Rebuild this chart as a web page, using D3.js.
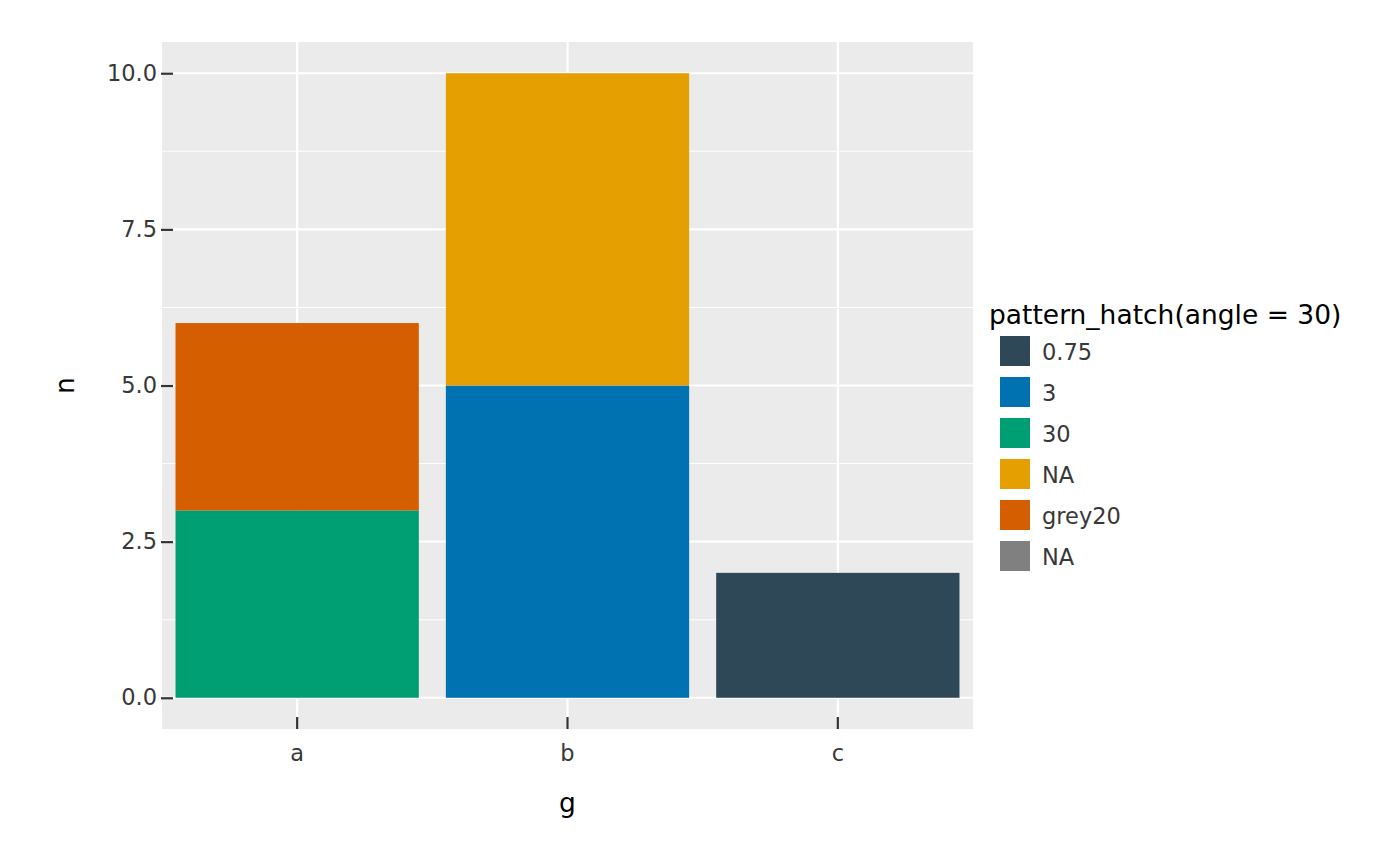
<!DOCTYPE html>
<html><head><meta charset="utf-8">
<script src="https://cdn.jsdelivr.net/npm/d3@7"></script>
<style>body{margin:0;background:#fff}text{font-family:"DejaVu Sans",sans-serif}</style>
</head><body><svg id="c" width="1400" height="866"></svg>
<script>
const categories = ["a","b","c"];
// stacked segments per category, bottom to top
const segCategory = ["a","a","b","b","c"];
const segKey = ["30","grey20","3","NA1","0.75"];
const segValue = [3,3,5,5,2];
const legendKeys = ["0.75","3","30","NA1","grey20","NA2"];
const legendLabels = ["0.75","3","30","NA","grey20","NA"];
const legendColors = ["#2F4858","#0072B2","#009E73","#E69F00","#D55E00","#808080"];
const yTicks = [0,2.5,5,7.5,10];
const yMinor = [1.25,3.75,6.25,8.75];

const svg = d3.select("#c");
const L=162,R=973,T=42,B=729;
const x = d3.scaleBand().domain(categories).range([L,R]).padding(0);
const y = d3.scaleLinear().domain([-0.5,10.5]).range([B,T]);
const color = d3.scaleOrdinal().domain(legendKeys).range(legendColors);
const txt = "#383838";

svg.append("rect").attr("x",L).attr("y",T).attr("width",R-L).attr("height",B-T).attr("fill","#EBEBEB");
svg.selectAll(".mn").data(yMinor).join("line").attr("x1",L).attr("x2",R)
  .attr("y1",d=>y(d)).attr("y2",d=>y(d)).attr("stroke","#fff").attr("stroke-width",1.1);
svg.selectAll(".mj").data(yTicks).join("line").attr("x1",L).attr("x2",R)
  .attr("y1",d=>y(d)).attr("y2",d=>y(d)).attr("stroke","#fff").attr("stroke-width",2.2);
svg.selectAll(".vx").data(categories).join("line").attr("y1",T).attr("y2",B)
  .attr("x1",d=>x(d)+x.bandwidth()/2).attr("x2",d=>x(d)+x.bandwidth()/2).attr("stroke","#fff").attr("stroke-width",2.2);

// stacked bars
const bw = x.bandwidth()*0.9;
const base = {};
const segs = segValue.map((v,i)=>{const c=segCategory[i];const b=base[c]||0;base[c]=b+v;return {c,k:segKey[i],y0:b,y1:b+v};});
svg.selectAll(".bar").data(segs).join("rect")
  .attr("x",d=>x(d.c)+x.bandwidth()/2-bw/2).attr("width",bw)
  .attr("y",d=>y(d.y1)).attr("height",d=>y(d.y0)-y(d.y1))
  .attr("fill",d=>color(d.k));

// y axis
const yAxis = d3.axisLeft(y).tickValues(yTicks).tickFormat(d3.format(".1f")).tickSize(-11).tickPadding(16);
const gy = svg.append("g").attr("transform",`translate(${L-1},0)`).call(yAxis);
gy.select(".domain").remove();
gy.selectAll("line").attr("stroke","#333").attr("stroke-width",2.2).attr("x1",0).attr("x2",12);
gy.selectAll("text").attr("x",-4).attr("font-size",22.5).attr("fill",txt).attr("font-family","DejaVu Sans");

// x axis
const xAxis = d3.axisBottom(x).tickSize(0).tickPadding(0);
const gx = svg.append("g").attr("transform",`translate(0,${B})`).call(xAxis);
gx.select(".domain").remove();
gx.selectAll("line").attr("y1",-12).attr("y2",0).attr("stroke","#333").attr("stroke-width",2.2);
gx.selectAll("text").attr("y",32).attr("dy",0).attr("font-size",22.5).attr("fill",txt).attr("font-family","DejaVu Sans");

svg.append("text").attr("x",(L+R)/2).attr("y",812).attr("text-anchor","middle").attr("font-size",26.5).text("g");
svg.append("text").attr("transform",`translate(74,${(T+B)/2}) rotate(-90)`).attr("text-anchor","middle").attr("font-size",26.5).text("n");

// legend
const lg = svg.append("g");
lg.append("text").attr("x",989).attr("y",324).attr("font-size",26.5).text("pattern_hatch(angle = 30)");
const items = lg.selectAll(".li").data(legendKeys).join("g").attr("transform",(d,i)=>`translate(1000,${336+i*41})`);
items.append("rect").attr("width",30).attr("height",30).attr("fill",d=>color(d));
items.append("text").attr("x",42).attr("y",23.5).attr("font-size",22.5).attr("fill",txt).text((d,i)=>legendLabels[i]);
</script></body></html>
